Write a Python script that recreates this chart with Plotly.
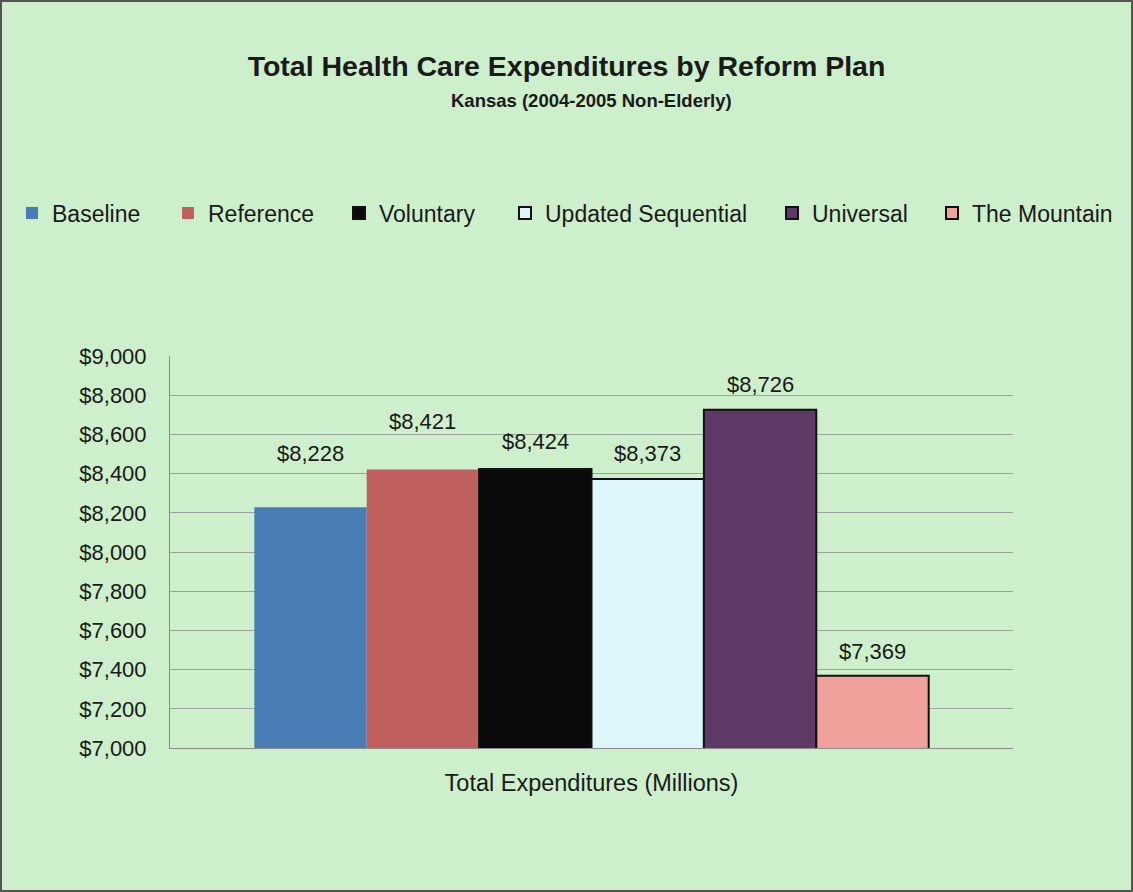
import plotly.graph_objects as go

category = ["Total Expenditures (Millions)"]
plans = ["Baseline", "Reference", "Voluntary", "Updated Sequential", "Universal", "The Mountain"]
values = [8228, 8421, 8424, 8373, 8726, 7369]
colors = ["#4A7DB6", "#C0605F", "#0A0A0A", "#DDF6FA", "#5E3A67", "#F1A19C"]
outline = [False, False, True, True, True, True]
label_lift = [54, 48, 27, 25, 25, 24]
legend_x_px = [12, 168, 339, 505, 772, 932]
y_ticks = [7000, 7200, 7400, 7600, 7800, 8000, 8200, 8400, 8600, 8800, 9000]
y_ticktext = ["$" + format(t, ",") for t in y_ticks]

FONT = "Liberation Sans, Arial"
TXT = "#1a1a1a"
W, H = 1133, 892

fig = go.Figure()
n = len(plans)
legend_layouts = {}
for i, (name, v, c, o) in enumerate(zip(plans, values, colors, outline)):
    lname = "legend" if i == 0 else f"legend{i + 1}"
    fig.add_trace(go.Bar(
        x=category, y=[v], name=name, showlegend=True,
        marker=dict(color=c, line=dict(color="#111111", width=2 if o else 0)),
        offsetgroup=str(i), legend=lname,
    ))
    legend_layouts[lname] = dict(
        orientation="h", xref="container", x=legend_x_px[i] / W, xanchor="left",
        yref="container", y=1 - 213 / H, yanchor="middle",
        font=dict(size=23, family=FONT, color=TXT),
        bgcolor="rgba(0,0,0,0)", visible=True,
    )

# data labels placed over each bar (x offset within group in paper units)
group_w = 0.8
bw = group_w / n
for i, (v, lift) in enumerate(zip(values, label_lift)):
    xc = 0.1 + bw * (i + 0.5)
    fig.add_annotation(
        x=xc, xref="paper", xanchor="center", y=v, yref="y", yshift=lift, yanchor="middle",
        text="$" + format(v, ","), showarrow=False,
        font=dict(family=FONT, size=22, color=TXT),
    )

fig.add_annotation(
    x=0.5, xref="paper", xanchor="center", y=(748 - 100) / 392, yref="paper", yanchor="middle",
    text="<b>Kansas (2004-2005 Non-Elderly)</b>", showarrow=False,
    font=dict(family=FONT, size=18.5, color=TXT),
)

bg = "#CDEFCB"
fig.update_layout(
    width=W, height=H, showlegend=True,
    paper_bgcolor=bg, plot_bgcolor=bg,
    margin=dict(l=170, r=120, t=356, b=144, autoexpand=False),
    barmode="group", bargap=0.2, bargroupgap=0,
    font=dict(family=FONT, color=TXT),
    title=dict(
        text="<b>Total Health Care Expenditures by Reform Plan</b>",
        x=0.5, xanchor="center", xref="container", y=1 - 66 / H, yanchor="middle",
        font=dict(size=28.5, family=FONT, color=TXT),
    ),
    xaxis=dict(
        showticklabels=False, showline=True, linecolor="#8a8a8a", linewidth=1,
        title=dict(text="Total Expenditures (Millions)", standoff=26,
                   font=dict(size=23.5, family=FONT, color=TXT)),
    ),
    yaxis=dict(
        range=[7000, 9000], tickmode="array", tickvals=y_ticks, ticktext=y_ticktext,
        showgrid=True, gridcolor="#9aa59a", gridwidth=1,
        showline=True, linecolor="#8a8a8a", linewidth=1,
        tickfont=dict(size=22, family=FONT, color=TXT),
        ticks="", ticklen=0, zeroline=False, ticklabelstandoff=18,
    ),
    **legend_layouts,
)
fig.add_shape(type="rect", xref="paper", yref="paper",
              x0=-169 / 843, x1=(843 + 119) / 843, y0=-143 / 392, y1=(392 + 355) / 392,
              line=dict(color="#555555", width=2), fillcolor="rgba(0,0,0,0)")
fig.write_html("out.html")
